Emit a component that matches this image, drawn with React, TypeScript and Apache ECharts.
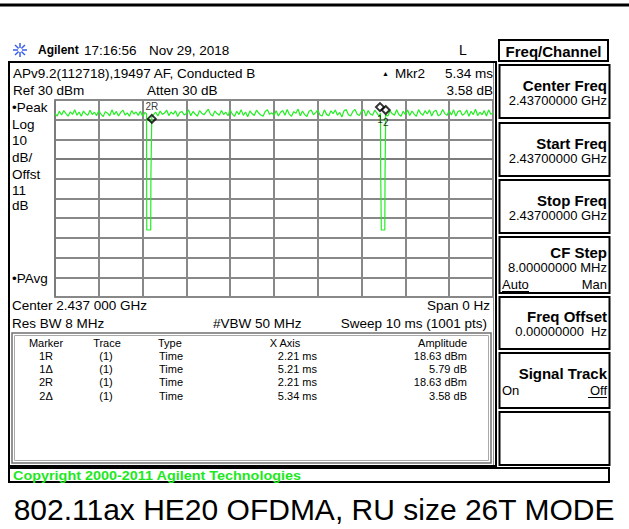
import React, { useEffect, useRef } from "react";
import * as echarts from "echarts";

// ---- data ----
const SWEEP_MS = [0, 10];
const AMP_RANGE_DBM = [-70, 30];
const NOISE_STEP_MS = 0.05;
const noiseDbm = [
  23.0, 21.9, 24.3, 22.4, 24.6, 23.1, 21.8, 24.0, 22.7, 25.1, 22.3, 23.9, 21.7, 24.4, 23.0, 22.2, 24.8, 22.6, 23.8, 22.1,
  24.5, 22.8, 21.6, 24.1, 23.3, 22.0, 25.0, 22.5, 24.2, 21.9, 23.7, 24.9, 22.4, 23.5, 21.8, 24.6, 22.9, 23.9, 22.2, 24.3,
  21.7, 23.6, 24.7, 22.3, 25.2, 22.6, 23.8, 21.9, 24.4, 22.7, 23.4, 24.8, 22.1, 23.9, 22.8, 24.5, 21.6, 23.7, 24.1, 22.4,
  23.2, 25.0, 22.0, 24.2, 22.9, 21.8, 24.6, 23.3, 22.5, 24.0, 25.3, 22.7, 21.9, 24.4, 23.1, 22.3, 24.7, 22.6, 23.8, 22.0,
  24.9, 22.8, 21.7, 24.3, 22.6, 25.1, 22.2, 23.9, 21.5, 24.5, 23.0, 22.1, 24.8, 23.4, 22.4, 21.8, 24.2, 25.0, 22.7, 23.5,
  22.3, 24.6, 21.9, 23.8, 24.7, 22.2, 25.2, 22.8, 21.7, 24.1, 23.3, 25.4, 22.0, 24.4, 22.6, 21.6, 24.3, 24.9, 22.5, 23.6,
  24.8, 22.4, 21.9, 25.0, 22.7, 22.0, 24.5, 23.1, 24.9, 22.3, 23.7, 21.4, 24.6, 25.1, 22.5, 21.9, 24.2, 25.2, 22.8, 22.1,
  24.4, 25.0, 21.8, 24.7, 22.9, 22.2, 24.8, 23.4, 21.7, 23.9, 25.3, 22.4, 21.9, 24.5, 23.0, 22.3, 25.0, 22.6, 21.8, 24.3,
  22.7, 24.9, 22.1, 24.4, 22.8, 21.7, 25.1, 23.2, 22.3, 24.6, 22.9, 25.0, 21.9, 24.2, 24.8, 22.0, 22.6, 25.2, 23.1, 22.2,
  24.5, 22.4, 25.0, 21.8, 24.1, 24.7, 22.3, 23.0, 24.9, 21.7, 24.3, 22.6, 25.3, 22.1, 23.8, 22.5, 24.6, 21.9, 25.0, 22.8,
  23.4,
];
const dip1 = [[2.09, 23.0], [2.095, -36], [2.185, -36], [2.19, -8], [2.205, -8], [2.21, 21.5]];
const dip2 = [[7.43, 23.3], [7.435, -4], [7.445, -4], [7.45, -36], [7.53, -36], [7.535, -8], [7.545, -8], [7.55, 22.5]];
const markerNames = ["2R", "1", "2"];
const markerPos = [[2.21, 20.4], [7.42, 26.4], [7.55, 24.9]];

const tableHeader = ["Marker", "Trace", "Type", "X Axis", "Amplitude"];
const tableMarkers = ["1R", "1Δ", "2R", "2Δ"];
const tableTrace = ["(1)", "(1)", "(1)", "(1)"];
const tableType = ["Time", "Time", "Time", "Time"];
const tableX = ["2.21 ms", "5.21 ms", "2.21 ms", "5.34 ms"];
const tableAmp = ["18.63 dBm", "5.79 dB", "18.63 dBm", "3.58 dB"];

const leftLabels = ["•Peak", "Log", "10", "dB/", "Offst", "11", "dB"];
const softKeys = [
  { label: "Center Freq", value: "2.43700000 GHz" },
  { label: "Start Freq", value: "2.43700000 GHz" },
  { label: "Stop Freq", value: "2.43700000 GHz" },
  { label: "CF Step", value: "8.00000000 MHz" },
  { label: "Freq Offset", value: "0.00000000  Hz" },
  { label: "Signal Track", value: "" },
  { label: "", value: "" },
];

const FONT = '"Liberation Sans", Arial, sans-serif';

function t(text: string, x: number, y: number, size: number, opt: any = {}) {
  const align = opt.align || "left";
  return {
    type: "text",
    x,
    y,
    z: 10,
    style: {
      text,
      font: `${opt.bold ? "bold " : ""}${size}px ${opt.family || FONT}`,
      fill: opt.color || "#000",
      align,
      verticalAlign: "middle",
      textAlign: align,
      textVerticalAlign: "middle",
    },
    scaleX: opt.scaleX || 1,
  };
}
function rect(x: number, y: number, w: number, h: number, stroke: string, lw: number) {
  return { type: "rect", z: 5, shape: { x, y, width: w, height: h }, style: { fill: "none", stroke, lineWidth: lw } };
}
function line(x1: number, y1: number, x2: number, y2: number, stroke: string, lw: number) {
  return { type: "line", z: 5, shape: { x1, y1, x2, y2 }, style: { stroke, lineWidth: lw } };
}

export default function App() {
  const ref = useRef<HTMLDivElement>(null);
  useEffect(() => {
    const chart = echarts.init(ref.current!, null, { renderer: "svg" });

    const trace: number[][] = [];
    noiseDbm.forEach((v, i) => {
      const tm = i * NOISE_STEP_MS;
      const inDip = (tm >= dip1[0][0] && tm <= dip1[dip1.length - 1][0]) || (tm >= dip2[0][0] && tm <= dip2[dip2.length - 1][0]);
      if (!inDip) trace.push([tm, v]);
    });
    dip1.forEach((p) => trace.push(p));
    dip2.forEach((p) => trace.push(p));
    trace.sort((a, b) => a[0] - b[0]);

    const g: any[] = [];
    // top rule
    g.push(line(0, 5, 629, 5, "#000", 3));
    // logo
    for (let k = 0; k < 8; k++) {
      const a = (k * Math.PI) / 4;
      g.push(line(20 + Math.cos(a) * 2, 50 + Math.sin(a) * 2, 20 + Math.cos(a) * 7, 50 + Math.sin(a) * 7, "#3a5ee8", 1.5));
    }
    g.push(t("Agilent", 38, 50, 12, { bold: true }));
    g.push(t("17:16:56", 84, 50, 13.5));
    g.push(t("Nov 29, 2018", 149, 50, 13.5));
    g.push(t("L", 459, 50, 14));
    // Main frame
    g.push(rect(9, 62, 487, 404, "#000", 2));
    g.push(line(493.5, 63, 493.5, 465, "#909090", 1));
    g.push(t("APv9.2(112718),19497 AF, Conducted B", 13, 73, 13.5));
    g.push(t("Ref 30 dBm", 13, 90, 13.5));
    g.push(t("Atten 30 dB", 147, 90, 13.5));
    g.push(t("▲", 382, 73, 7));
    g.push(t("Mkr2", 395, 73, 13.5));
    g.push(t("5.34 ms", 493, 73, 13.5, { align: "right" }));
    g.push(t("3.58 dB", 493, 90, 13.5, { align: "right" }));
    const leftY = [107, 124, 140, 157, 174, 190, 205];
    leftLabels.forEach((s, i) => g.push(t(s, 12, leftY[i], 13.5)));
    g.push(t("•PAvg", 12, 278, 13.5));
    g.push(t("Center 2.437 000 GHz", 12, 305, 13.5));
    g.push(t("Span 0 Hz", 490, 305, 13.5, { align: "right" }));
    g.push(t("Res BW 8 MHz", 12, 323, 13.5));
    g.push(t("#VBW 50 MHz", 213, 323, 13.5));
    g.push(t("Sweep 10 ms (1001 pts)", 487, 323, 13.5, { align: "right" }));
    // table box
    g.push(rect(12, 333, 479, 130, "#707070", 1.5));
    g.push(rect(14.5, 335.5, 474, 125, "#a8a8a8", 1));
    const hy = 343;
    g.push(t(tableHeader[0], 46, hy, 11, { align: "center" }));
    g.push(t(tableHeader[1], 107, hy, 11, { align: "center" }));
    g.push(t(tableHeader[2], 158, hy, 11));
    g.push(t(tableHeader[3], 285, hy, 11, { align: "center" }));
    g.push(t(tableHeader[4], 467, hy, 11, { align: "right" }));
    const rowY = [356, 369, 382, 396];
    tableMarkers.forEach((m, i) => {
      g.push(t(m, 46, rowY[i], 11, { align: "center" }));
      g.push(t(tableTrace[i], 106, rowY[i], 11, { align: "center" }));
      g.push(t(tableType[i], 159, rowY[i], 11));
      g.push(t(tableX[i], 317, rowY[i], 11, { align: "right" }));
      g.push(t(tableAmp[i], 467, rowY[i], 11, { align: "right" }));
    });
    // softkeys
    g.push(rect(499, 40, 109, 21, "#000", 2));
    g.push(t("Freq/Channel", 553.5, 51, 15, { bold: true, align: "center" }));
    const boxTop = [65, 123, 180, 237, 297, 353, 412];
    const boxH = [53, 53, 53, 56, 52, 55, 53];
    const labelDy = [20, 20, 20, 15, 19, 20, 20];
    softKeys.forEach((k, i) => {
      g.push(rect(499.5, boxTop[i], 110, boxH[i], "#000", 2));
      if (k.label) g.push(t(k.label, 607, boxTop[i] + labelDy[i], 15, { bold: true, align: "right" }));
      if (k.value) g.push(t(k.value, 607, boxTop[i] + labelDy[i] + 15, 13, { align: "right" }));
    });
    g.push(t("Auto", 502, 284, 13));
    g.push(line(502, 291.5, 529, 291.5, "#000", 1));
    g.push(t("Man", 607, 284, 13, { align: "right" }));
    g.push(t("On", 502, 390, 13));
    g.push(t("Off", 607, 390, 13, { align: "right" }));
    g.push(line(588, 397.5, 607, 397.5, "#000", 1));
    // copyright
    g.push(rect(9, 468, 600, 14, "#000", 2));
    g.push(t("Copyright 2000-2011 Agilent Technologies", 13, 475.5, 12, { bold: true, color: "#1ee81e", scaleX: 1.2 }));
    // caption
    g.push(t("802.11ax HE20 OFDMA, RU size 26T MODE", 314, 509, 30, { align: "center" }));

    chart.setOption({
      animation: false,
      backgroundColor: "#fff",
      grid: { left: 55, top: 100, width: 438, height: 197, show: false },
      xAxis: {
        type: "value",
        min: SWEEP_MS[0],
        max: SWEEP_MS[1],
        interval: 1,
        axisLabel: { show: false },
        axisTick: { show: false },
        axisLine: { show: true, lineStyle: { color: "#7c7c7c", width: 2 } },
        splitLine: { show: true, lineStyle: { color: "#888888", width: 2 } },
      },
      yAxis: {
        type: "value",
        min: AMP_RANGE_DBM[0],
        max: AMP_RANGE_DBM[1],
        interval: 10,
        axisLabel: { show: false },
        axisTick: { show: false },
        axisLine: { show: true, lineStyle: { color: "#7c7c7c", width: 2 } },
        splitLine: { show: true, lineStyle: { color: "#888888", width: 2 } },
      },
      series: [
        {
          type: "line",
          data: trace,
          symbol: "none",
          lineStyle: { color: "#22ee22", width: 1.2 },
          z: 3,
        },
        {
          type: "scatter",
          data: markerPos.map((p, i) => ({
            value: p,
            name: markerNames[i],
            label: {
              show: true,
              formatter: markerNames[i],
              position: i === 0 ? "top" : "bottom",
              distance: 2,
              fontSize: 10,
              fontFamily: FONT,
              color: "#000",
            },
          })),
          symbol: "diamond",
          symbolSize: 8,
          itemStyle: { color: "rgba(0,0,0,0)", borderColor: "#000", borderWidth: 2 },
          z: 4,
        },
      ],
      graphic: g,
    });
    return () => chart.dispose();
  }, []);
  return <div ref={ref} style={{ position: "fixed", left: 0, top: 0, width: 629, height: 529, background: "#fff" }} />;
}
